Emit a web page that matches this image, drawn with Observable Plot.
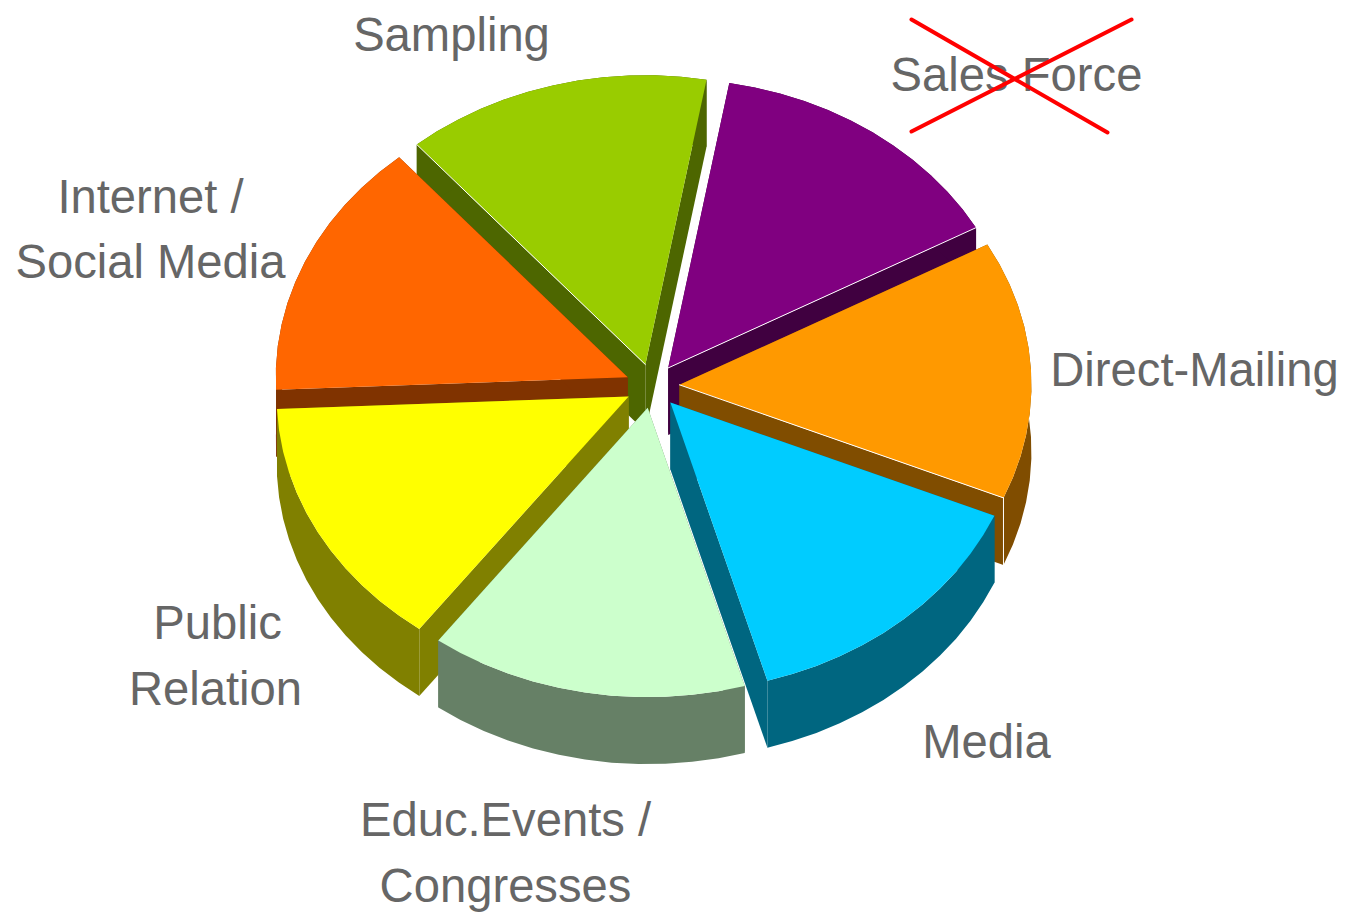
<!DOCTYPE html>
<html>
<head>
<meta charset="utf-8">
<script src="https://cdn.jsdelivr.net/npm/d3@7"></script>
<script src="https://cdn.jsdelivr.net/npm/@observablehq/plot@0.6"></script>
<style>html,body{margin:0;padding:0;background:#fff}svg{display:block}</style>
</head>
<body>
<div id="chart"></div>
<script>
// Chart data: seven nearly equal slices, clockwise from the top (sweep, in degrees)
const categories = ["Sales Force", "Direct-Mailing", "Media", "Educ.Events / Congresses", "Public Relation", "Internet / Social Media", "Sampling"];
const shares = [51, 52, 51, 52.5, 51, 52, 50.5];
const topColors = ["#800080", "#ff9900", "#00ccff", "#ccffcc", "#ffff00", "#ff6600", "#99cc00"];
const sideColors = ["#400040", "#804d00", "#006680", "#668066", "#808000", "#803300", "#4d6600"];
const paintOrder = [0, 6, 1, 5, 2, 4, 3];

const labelLines = ["Sampling", "Sales Force", "Internet /", "Social Media", "Direct-Mailing", "Media", "Public", "Relation", "Educ.Events /", "Congresses"];
const labelX = [451, 1016, 150, 150, 1194, 986, 217, 215, 505, 505];
const labelY = [50, 90, 212, 277, 385, 757, 638, 704, 835, 901];

const crossX = [[911, 1107], [911, 1131]];
const crossY = [[19, 132], [131, 19]];

// Pie geometry (turned into rows below, drawn through Plot's x/y scales)
const W = 1345, H = 916;
const cx = 652, cy = 385.5, rx = 352, squash = 0.822, depth = 67, explode = 27, startDeg = 80;
const segments = 12;

const total = d3.sum(shares);
const rad = d => d * Math.PI / 180;
let acc = startDeg;
const slices = shares.map((s, i) => {
  const a0 = acc, a1 = acc - 360 * s / total;
  acc = a1;
  const mid = rad((a0 + a1) / 2);
  const ax = cx + explode * Math.cos(mid), ay = cy - explode * squash * Math.sin(mid);
  const arc = d3.range(segments + 1).map(k => {
    const a = rad(a0 + (a1 - a0) * k / segments);
    return [ax + rx * Math.cos(a), ay - rx * squash * Math.sin(a)];
  });
  return {i, apex: [ax, ay], arc};
});

const rows = [];
let part = 0;
const addPoly = (pts, color) => {
  part++;
  pts.forEach(p => rows.push({x: p[0], y: p[1], part, color}));
};
const drop = p => [p[0], p[1] + depth];
for (const idx of paintOrder) {
  const {apex, arc} = slices[idx];
  const side = sideColors[idx];
  const first = arc[0], last = arc[arc.length - 1];
  addPoly([apex, first, drop(first), drop(apex)], side);
  addPoly([apex, last, drop(last), drop(apex)], side);
  addPoly([...arc, ...arc.map(drop).reverse()], side);
  addPoly([apex, ...arc], topColors[idx]);
}

// thin white highlights along a few upper edges
const lastOf = a => a[a.length - 1];
const highlightPairs = [
  [slices[0].apex, lastOf(slices[0].arc)],
  [slices[1].apex, lastOf(slices[1].arc)],
  [slices[6].apex, slices[6].arc[0]],
  [lastOf(slices[1].arc), drop(lastOf(slices[1].arc))]
];
const edgeRows = highlightPairs.flatMap((pair, idx) => pair.map(p => ({x: p[0], y: p[1], idx})));

const labelRows = labelLines.map((t, i) => ({t, x: labelX[i], y: labelY[i]}));
const crossRows = crossX.flatMap((xs, k) => xs.map((x, j) => ({x, y: crossY[k][j], k})));

const chart = Plot.plot({
  width: W,
  height: H,
  margin: 0,
  x: {domain: [0, W], range: [0, W], axis: null},
  y: {domain: [0, H], range: [0, H], axis: null},
  color: {type: "identity"},
  style: {background: "#fff"},
  marks: [
    Plot.line(rows, {x: "x", y: "y", z: "part", fill: "color", stroke: "none"}),
    Plot.line(edgeRows, {x: "x", y: "y", z: "idx", stroke: "#fff", strokeWidth: 1}),
    Plot.text(labelRows, {
      x: "x", y: "y", text: "t", textAnchor: "middle", lineAnchor: "bottom",
      fontFamily: "Liberation Sans", fontSize: 47.2, fill: "#666666"
    }),
    Plot.line(crossRows, {x: "x", y: "y", z: "k", stroke: "#ff0000", strokeWidth: 4})
  ]
});
document.getElementById("chart").appendChild(chart);
</script>
</body>
</html>
